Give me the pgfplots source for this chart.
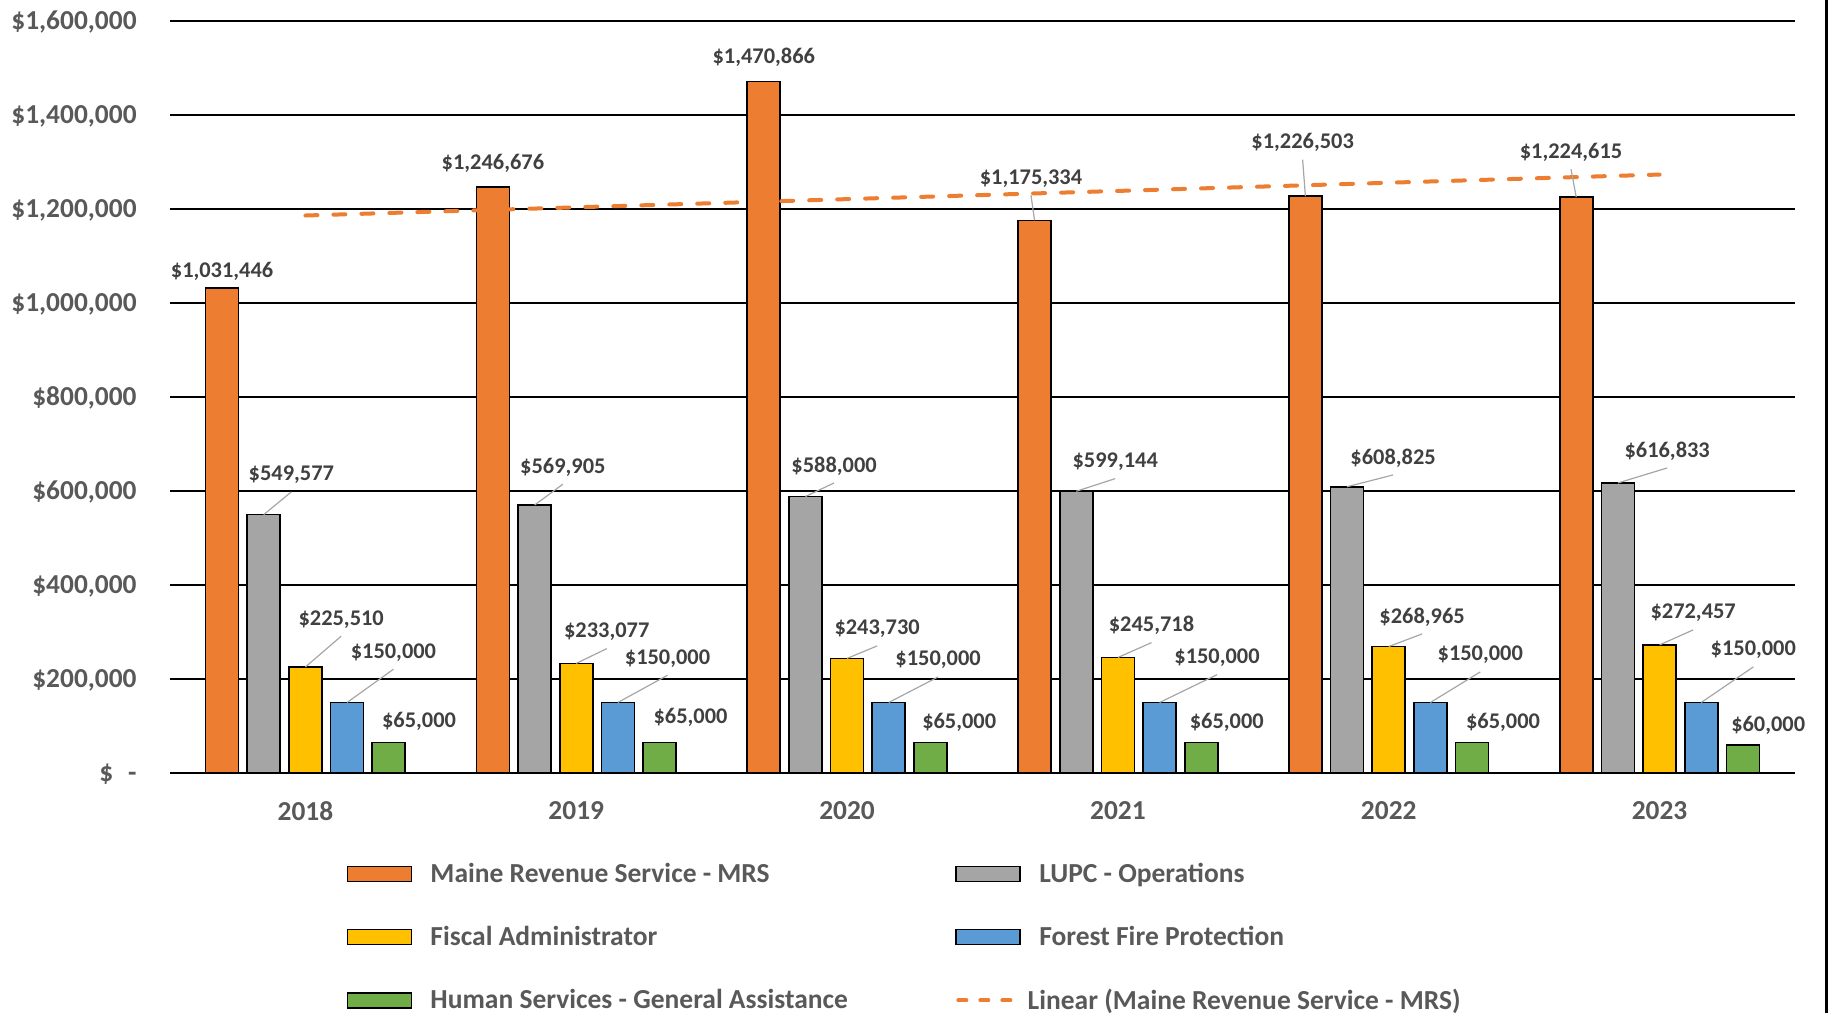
\documentclass[border=0pt]{standalone}
\usepackage{fontspec}
\setmainfont{Carlito}
\usepackage{pgfplots}
\pgfplotsset{compat=1.18}
\definecolor{cMRS}{HTML}{ED7D31}
\definecolor{cLUPC}{HTML}{A5A5A5}
\definecolor{cFA}{HTML}{FFC000}
\definecolor{cFFP}{HTML}{5B9BD5}
\definecolor{cHS}{HTML}{70AD47}
\definecolor{tickgray}{HTML}{595959}
\definecolor{lblgray}{HTML}{404040}
\definecolor{leadgray}{HTML}{A6A6A6}
\tikzset{
  dl/.style={font=\fontsize{11.2}{13}\selectfont\bfseries, text=lblgray, inner sep=0pt, anchor=center},
  ld/.style={leadgray, line width=0.6pt},
}
\newcommand{\lgbar}[1]{\draw[fill=#1, draw=black, line width=0.85pt] (0pt,-3.75pt) rectangle (32pt,3.75pt); \path[draw=none,fill=none] (0pt,0pt) -- (41.5pt,0pt);}
\begin{document}
\begin{tikzpicture}
\useasboundingbox (0,0) rectangle (915pt,506.5pt);
\begin{axis}[
  at={(85pt,120pt)}, anchor=south west,
  scale only axis, width=812.5pt, height=376.15pt,
  clip=false,
  xmin=-0.5, xmax=5.5, ymin=0, ymax=1600000,
  axis line style={draw=none},
  tick style={draw=none}, major tick length=0pt,
  ymajorgrids, grid style={black, line width=0.9pt},
  ytick={0,200000,400000,600000,800000,1000000,1200000,1400000,1600000},
  yticklabels={{\$\hspace{0.55em}-},{\$200,000},{\$400,000},{\$600,000},{\$800,000},{\$1,000,000},{\$1,200,000},{\$1,400,000},{\$1,600,000}},
  xtick={0,1,2,3,4,5},
  xticklabels={2018,2019,2020,2021,2022,2023},
  ticklabel style={font=\fontsize{13.7}{16}\selectfont\bfseries, text=tickgray},
  yticklabel style={anchor=east, inner sep=0pt, xshift=-16.5pt, yshift=-0.6pt},
  xticklabel style={anchor=north, inner sep=0pt, yshift=-14.2pt},
  legend columns=2,
  legend cell align=left,
  legend style={at={(0.1087,-0.1191)}, anchor=north west, draw=none, fill=none,
    inner sep=0pt, outer sep=0pt, row sep=20pt, column sep=0pt,
    font=\fontsize{13.75}{16}\selectfont\bfseries, text=tickgray,
    nodes={inner sep=0pt}, cells={anchor=west}},
]
\addplot[ybar, bar width=0.122, bar shift=-0.3077, fill=cMRS, draw=black, line width=0.85pt,
  legend image code/.code={\lgbar{cMRS}}]
  coordinates {(0,1031446) (1,1246676) (2,1470866) (3,1175334) (4,1226503) (5,1224615)};
\addlegendentry{\makebox[262.5pt][l]{Maine Revenue Service - MRS\rule[-4pt]{0pt}{14pt}}}
\addplot[ybar, bar width=0.122, bar shift=-0.1538, fill=cLUPC, draw=black, line width=0.85pt,
  legend image code/.code={\lgbar{cLUPC}}]
  coordinates {(0,549577) (1,569905) (2,588000) (3,599144) (4,608825) (5,616833)};
\addlegendentry{LUPC - Operations\rule[-4pt]{0pt}{14pt}}
\addplot[ybar, bar width=0.122, bar shift=0, fill=cFA, draw=black, line width=0.85pt,
  legend image code/.code={\lgbar{cFA}}]
  coordinates {(0,225510) (1,233077) (2,243730) (3,245718) (4,268965) (5,272457)};
\addlegendentry{\makebox[262.5pt][l]{Fiscal Administrator\rule[-4pt]{0pt}{14pt}}}
\addplot[ybar, bar width=0.122, bar shift=0.1538, fill=cFFP, draw=black, line width=0.85pt,
  legend image code/.code={\lgbar{cFFP}}]
  coordinates {(0,150000) (1,150000) (2,150000) (3,150000) (4,150000) (5,150000)};
\addlegendentry{Forest Fire Protection\rule[-4pt]{0pt}{14pt}}
\addplot[ybar, bar width=0.122, bar shift=0.3077, fill=cHS, draw=black, line width=0.85pt,
  legend image code/.code={\lgbar{cHS}}]
  coordinates {(0,65000) (1,65000) (2,65000) (3,65000) (4,65000) (5,60000)};
\addlegendentry{\makebox[262.5pt][l]{Human Services - General Assistance\rule[-4pt]{0pt}{14pt}}}
\addplot[cMRS, line width=2pt, dash pattern=on 6pt off 8pt, line cap=round,
  legend image code/.code={\draw[cMRS, line width=2pt, dash pattern=on 4pt off 7pt, line cap=round] (1pt,0pt) -- (31pt,0pt); \path[draw=none] (0pt,0pt) -- (41.5pt,0pt);}]
  coordinates {(0,1185683) (5,1272797)};
\addlegendentry{\hspace*{-5.8pt}Linear (Maine Revenue Service - MRS)\rule[-4pt]{0pt}{14pt}}

% leader lines
\draw[ld] (axis cs:2.679,1228800) -- (axis cs:2.6923,1175334);
\draw[ld] (axis cs:3.682,1304500) -- (axis cs:3.6923,1226503);
\draw[ld] (axis cs:4.673,1284100) -- (axis cs:4.6923,1224615);
\draw[ld] (axis cs:-0.052,597800) -- (axis cs:-0.1538,549577);
\draw[ld] (axis cs:0.9505,614200) -- (axis cs:0.8462,569905);
\draw[ld] (axis cs:1.952,616900) -- (axis cs:1.8462,588000);
\draw[ld] (axis cs:2.990,626100) -- (axis cs:2.8462,599144);
\draw[ld] (axis cs:4.016,633900) -- (axis cs:3.8462,608825);
\draw[ld] (axis cs:5.028,648800) -- (axis cs:4.8462,616833);
\draw[ld] (axis cs:0.132,290900) -- (axis cs:0,225510);
\draw[ld] (axis cs:1.1126,264500) -- (axis cs:1,233077);
\draw[ld] (axis cs:2.111,270300) -- (axis cs:2,243730);
\draw[ld] (axis cs:3.124,277300) -- (axis cs:3,245718);
\draw[ld] (axis cs:4.123,295800) -- (axis cs:4,268965);
\draw[ld] (axis cs:5.124,304300) -- (axis cs:5,272457);
\draw[ld] (axis cs:0.325,220700) -- (axis cs:0.1538,150000);
\draw[ld] (axis cs:1.337,207900) -- (axis cs:1.1538,150000);
\draw[ld] (axis cs:2.336,204300) -- (axis cs:2.1538,150000);
\draw[ld] (axis cs:3.366,209200) -- (axis cs:3.1538,150000);
\draw[ld] (axis cs:4.338,215000) -- (axis cs:4.1538,150000);
\draw[ld] (axis cs:5.346,225600) -- (axis cs:5.1538,150000);

% data labels
\node[dl] at (axis cs:-0.3077,1066950) {\$1,031,446};
\node[dl] at (axis cs:0.6923,1296450) {\$1,246,676};
\node[dl] at (axis cs:1.6923,1522770) {\$1,470,866};
\node[dl] at (axis cs:2.679,1264800) {\$1,175,334};
\node[dl] at (axis cs:3.682,1340500) {\$1,226,503};
\node[dl] at (axis cs:4.673,1320100) {\$1,224,615};

\node[dl] at (axis cs:-0.052,633800) {\$549,577};
\node[dl] at (axis cs:0.9505,650200) {\$569,905};
\node[dl] at (axis cs:1.952,652900) {\$588,000};
\node[dl] at (axis cs:2.990,662100) {\$599,144};
\node[dl] at (axis cs:4.016,669900) {\$608,825};
\node[dl] at (axis cs:5.028,684800) {\$616,833};

\node[dl] at (axis cs:0.132,326900) {\$225,510};
\node[dl] at (axis cs:1.1126,300500) {\$233,077};
\node[dl] at (axis cs:2.111,306300) {\$243,730};
\node[dl] at (axis cs:3.124,313300) {\$245,718};
\node[dl] at (axis cs:4.123,331800) {\$268,965};
\node[dl] at (axis cs:5.124,340300) {\$272,457};

\node[dl] at (axis cs:0.325,256700) {\$150,000};
\node[dl] at (axis cs:1.337,243900) {\$150,000};
\node[dl] at (axis cs:2.336,240300) {\$150,000};
\node[dl] at (axis cs:3.366,245200) {\$150,000};
\node[dl] at (axis cs:4.338,251000) {\$150,000};
\node[dl] at (axis cs:5.346,261600) {\$150,000};

\node[dl] at (axis cs:0.4195,109100) {\$65,000};
\node[dl] at (axis cs:1.422,117600) {\$65,000};
\node[dl] at (axis cs:2.414,108500) {\$65,000};
\node[dl] at (axis cs:3.402,107000) {\$65,000};
\node[dl] at (axis cs:4.422,108500) {\$65,000};
\node[dl] at (axis cs:5.401,102100) {\$60,000};
\end{axis}
\draw[black, line width=1.8pt] (913.3pt,0pt) -- (913.3pt,506.5pt);
\end{tikzpicture}
\end{document}
